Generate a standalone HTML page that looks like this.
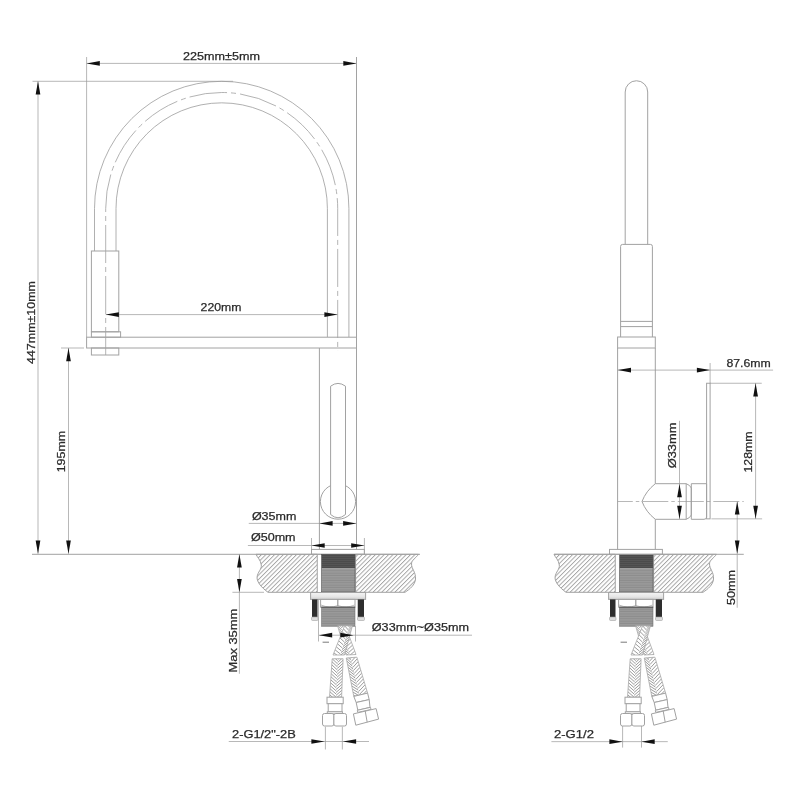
<!DOCTYPE html>
<html><head><meta charset="utf-8"><style>
html,body{margin:0;padding:0;background:#fff;}
svg{display:block;will-change:transform;}
text{font-family:"Liberation Sans",sans-serif;}
</style></head><body>
<svg width="800" height="800" viewBox="0 0 800 800">
<rect width="800" height="800" fill="#fff"/>
<defs>
<pattern id="hatch" patternUnits="userSpaceOnUse" width="3.1" height="10" patternTransform="rotate(45)">
<line x1="0.5" y1="0" x2="0.5" y2="10" stroke="#9a9a9a" stroke-width="0.85"/></pattern>
<pattern id="thrDark" patternUnits="userSpaceOnUse" width="10" height="2">
<rect width="10" height="2" fill="#555"/><rect y="1.2" width="10" height="0.6" fill="#444"/></pattern>
<pattern id="thrMid" patternUnits="userSpaceOnUse" width="10" height="2.4">
<rect width="10" height="2.4" fill="#9a9a9a"/><rect y="1.5" width="10" height="0.6" fill="#828282"/></pattern>
<linearGradient id="washer" x1="0" y1="0" x2="0" y2="1"><stop offset="0" stop-color="#f4f4f4"/><stop offset="0.6" stop-color="#e6e6e6"/><stop offset="1" stop-color="#cfcfcf"/></linearGradient>
<pattern id="braid" patternUnits="userSpaceOnUse" width="5" height="3">
<rect width="5" height="3" fill="#fff"/>
<path d="M0,0.2 L2.5,2.6 L5,0.2" fill="none" stroke="#8a8a8a" stroke-width="0.8"/></pattern>
</defs>
<line x1="86.6" y1="63.4" x2="356.5" y2="63.4" stroke="#9a9a9a" stroke-width="0.7" />
<polygon points="86.60,63.40 99.80,61.05 99.80,65.75" fill="#111"/>
<polygon points="356.50,63.40 343.30,61.05 343.30,65.75" fill="#111"/>
<line x1="86.6" y1="57" x2="86.6" y2="337" stroke="#9a9a9a" stroke-width="0.7" />
<line x1="356.5" y1="57" x2="356.5" y2="549.4" stroke="#a2a2a2" stroke-width="1.0" />
<text x="183" y="60" font-size="11.4" textLength="77" lengthAdjust="spacingAndGlyphs" fill="#2a2a2a" stroke="#2a2a2a" stroke-width="0.25">225mm±5mm</text>
<line x1="32.5" y1="81.3" x2="233" y2="81.3" stroke="#9a9a9a" stroke-width="0.7" />
<line x1="38" y1="81.3" x2="38" y2="553.8" stroke="#9a9a9a" stroke-width="0.7" />
<polygon points="38.00,81.30 35.65,94.50 40.35,94.50" fill="#111"/>
<polygon points="38.00,553.80 35.65,540.60 40.35,540.60" fill="#111"/>
<text x="34.8" y="364" font-size="11.4" textLength="83" lengthAdjust="spacingAndGlyphs" fill="#2a2a2a" stroke="#2a2a2a" stroke-width="0.25" transform="rotate(-90 34.8 364)">447mm±10mm</text>
<line x1="61" y1="348" x2="84" y2="348" stroke="#9a9a9a" stroke-width="0.7" />
<line x1="68.5" y1="348" x2="68.5" y2="553.8" stroke="#9a9a9a" stroke-width="0.7" />
<polygon points="68.50,348.00 66.15,361.20 70.85,361.20" fill="#111"/>
<polygon points="68.50,553.80 66.15,540.60 70.85,540.60" fill="#111"/>
<text x="64.6" y="472.3" font-size="11.4" textLength="41.5" lengthAdjust="spacingAndGlyphs" fill="#2a2a2a" stroke="#2a2a2a" stroke-width="0.25" transform="rotate(-90 64.6 472.3)">195mm</text>
<line x1="32" y1="554.3" x2="420" y2="554.3" stroke="#a2a2a2" stroke-width="1.0" />
<path d="M94.49999999999999,251 L94.49999999999999,208.5 A127.2,127.2 0 0 1 348.9,208.5 L348.9,337" fill="none" stroke="#9c9c9c" stroke-width="0.8"/>
<path d="M115.99999999999999,251 L115.99999999999999,208.5 A105.7,105.7 0 0 1 327.4,208.5 L327.4,337" fill="none" stroke="#9c9c9c" stroke-width="0.8"/>
<path d="M105.69999999999999,355 L105.69999999999999,208.5 A116,116 0 0 1 337.7,208.5 L337.7,351" fill="none" stroke="#a0a0a0" stroke-width="0.8" stroke-dasharray="38 4 5 4" stroke-dashoffset="10"/>
<rect x="91.4" y="251" width="27.40" height="80.80" stroke="#a2a2a2" stroke-width="1.0" fill="none" />
<rect x="91.4" y="331.8" width="29.20" height="5.40" stroke="#a2a2a2" stroke-width="1.0" fill="none" />
<rect x="91.4" y="348" width="27.40" height="7.00" stroke="#a2a2a2" stroke-width="1.0" fill="none" />
<rect x="86.6" y="337.2" width="269.90" height="10.80" stroke="#a2a2a2" stroke-width="1.0" fill="none" />
<line x1="105.7" y1="314.6" x2="337.6" y2="314.6" stroke="#9a9a9a" stroke-width="0.7" />
<polygon points="105.70,314.60 118.90,312.25 118.90,316.95" fill="#111"/>
<polygon points="337.60,314.60 324.40,312.25 324.40,316.95" fill="#111"/>
<text x="200.6" y="311" font-size="11.4" textLength="40.8" lengthAdjust="spacingAndGlyphs" fill="#2a2a2a" stroke="#2a2a2a" stroke-width="0.25">220mm</text>
<line x1="319.4" y1="348" x2="319.4" y2="549.4" stroke="#a2a2a2" stroke-width="1.0" />
<circle cx="338" cy="501.6" r="17.6" fill="none" stroke="#a2a2a2" stroke-width="1.0"/>
<path d="M330.6,386.2 Q338,380.6 345.5,386.2 L345.5,514.5 Q338,521 330.6,514.5 Z" fill="#fff" stroke="#a2a2a2" stroke-width="1.0"/>
<line x1="248.75" y1="523.4" x2="356.1" y2="523.4" stroke="#9a9a9a" stroke-width="0.7" />
<polygon points="319.40,523.40 332.60,521.05 332.60,525.75" fill="#111"/>
<polygon points="356.30,523.40 343.10,521.05 343.10,525.75" fill="#111"/>
<text x="251.9" y="519.6" font-size="11.4" textLength="44.5" lengthAdjust="spacingAndGlyphs" fill="#2a2a2a" stroke="#2a2a2a" stroke-width="0.25">Ø35mm</text>
<line x1="247.9" y1="545.5" x2="364.4" y2="545.5" stroke="#9a9a9a" stroke-width="0.7" />
<polygon points="311.50,545.50 324.70,543.15 324.70,547.85" fill="#111"/>
<polygon points="364.40,545.50 351.20,543.15 351.20,547.85" fill="#111"/>
<line x1="311.5" y1="538" x2="311.5" y2="554.3" stroke="#9a9a9a" stroke-width="0.7" />
<line x1="364.4" y1="538" x2="364.4" y2="554.3" stroke="#9a9a9a" stroke-width="0.7" />
<text x="250.9" y="541" font-size="11.4" textLength="44.7" lengthAdjust="spacingAndGlyphs" fill="#2a2a2a" stroke="#2a2a2a" stroke-width="0.25">Ø50mm</text>
<g><rect x="311.5" y="549.4" width="52.90" height="4.90" stroke="#a2a2a2" stroke-width="1.0" fill="none" /><path d="M256,554.3 L317.25,554.3 L317.25,592.3 L268,592.3 C262,588 256.5,582 257.1,577 C257.6,572 262,569 261.3,565 C260.8,560 257,557 256,554.3 Z" fill="url(#hatch)" stroke="#a2a2a2" stroke-width="1.0"/><path d="M355.6,554.3 L418.5,554.3 C416,558 411.5,560 411.5,564 C411.5,569 416,572 415.5,579 C415,585 410,589 405,592.3 L355.6,592.3 Z" fill="url(#hatch)" stroke="#a2a2a2" stroke-width="1.0"/><rect x="321.5" y="554.3" width="33.5" height="14" fill="url(#thrDark)"/><rect x="321.5" y="568.3" width="33.5" height="23.5" fill="url(#thrMid)"/><rect x="321.5" y="554.3" width="33.50" height="37.50" stroke="#555" stroke-width="0.6" fill="none" /><rect x="310.6" y="592.5" width="55.00" height="6.90" stroke="#a2a2a2" stroke-width="1.0" fill="url(#washer)" /><rect x="312" y="599.4" width="5.5" height="17.6" fill="#2e2e2e"/><rect x="357.75" y="599.4" width="6.25" height="17.6" fill="#2e2e2e"/><rect x="311.5" y="617" width="6.50" height="3.50" stroke="#a2a2a2" stroke-width="0.6" fill="#ddd" rx="1"/><rect x="357.5" y="617" width="7.00" height="3.50" stroke="#a2a2a2" stroke-width="0.6" fill="#ddd" rx="1"/><rect x="320.6" y="599.4" width="34.40" height="7.80" stroke="#a2a2a2" stroke-width="1.0" fill="#fff" /><path d="M321,605 Q329.4,608.6 337.8,605.6 Q346.4,608.6 354.6,605" fill="none" stroke="#aaa" stroke-width="0.8"/><line x1="337.8" y1="599.4" x2="337.8" y2="606" stroke="#999" stroke-width="1.2"/><rect x="321.5" y="607" width="33.5" height="19.25" fill="url(#thrMid)"/><rect x="321.5" y="607" width="33.50" height="19.25" stroke="#666" stroke-width="0.5" fill="none" /><line x1="321.5" y1="607.3" x2="355" y2="607.3" stroke="#555" stroke-width="0.9"/><clipPath id="hc1"><polygon points="337.60,625.80 345.40,625.80 356.00,654.50 346.00,655.00"/></clipPath><polygon points="337.60,625.80 345.40,625.80 356.00,654.50 346.00,655.00" fill="#fff"/><path d="M334.99,616.72 L338.55,620.80 M342.65,618.36 L339.04,622.30 M335.86,619.75 L339.53,623.80 M343.75,621.34 L340.02,625.30 M336.73,622.77 L340.52,626.80 M344.85,624.31 L341.01,628.30 M337.60,625.80 L341.50,629.80 M345.95,627.29 L341.99,631.30 M338.47,628.83 L342.48,632.80 M347.05,630.26 L342.98,634.30 M339.34,631.85 L343.47,635.80 M348.15,633.24 L343.96,637.30 M340.21,634.88 L344.45,638.80 M349.24,636.21 L344.95,640.30 M341.08,637.90 L345.44,641.80 M350.34,639.18 L345.93,643.30 M341.95,640.93 L346.42,644.80 M351.44,642.16 L346.91,646.30 M342.82,643.96 L347.41,647.80 M352.54,645.13 L347.90,649.30 M343.69,646.98 L348.39,650.80 M353.64,648.11 L348.88,652.30 M344.56,650.01 L349.38,653.80 M354.74,651.08 L349.87,655.30 M345.43,653.03 L350.36,656.80 M355.84,654.05 L350.85,658.30 M346.30,656.06 L351.34,659.80 M356.93,657.03 L351.84,661.30 M347.18,659.08 L352.33,662.80 M358.03,660.00 L352.82,664.30" fill="none" stroke="#8a8a8a" stroke-width="0.85" clip-path="url(#hc1)"/><polygon points="337.60,625.80 345.40,625.80 356.00,654.50 346.00,655.00" fill="none" stroke="#a2a2a2" stroke-width="0.75"/><clipPath id="hc2"><polygon points="344.60,625.80 352.40,625.80 344.50,655.00 333.00,655.00"/></clipPath><polygon points="344.60,625.80 352.40,625.80 344.50,655.00 333.00,655.00" fill="#fff"/><path d="M348.18,616.80 L351.51,621.14 M354.43,618.30 L351.00,622.64 M346.98,619.80 L350.50,624.14 M353.62,621.30 L350.00,625.64 M345.79,622.80 L349.50,627.14 M352.81,624.30 L349.00,628.64 M344.60,625.80 L348.50,630.14 M351.99,627.30 L348.00,631.64 M343.41,628.80 L347.50,633.14 M351.18,630.30 L347.00,634.64 M342.22,631.80 L346.50,636.14 M350.37,633.30 L346.00,637.64 M341.02,634.80 L345.49,639.14 M349.56,636.30 L344.99,640.64 M339.83,637.80 L344.49,642.14 M348.75,639.30 L343.99,643.64 M338.64,640.80 L343.49,645.14 M347.94,642.30 L342.99,646.64 M337.45,643.80 L342.49,648.14 M347.12,645.30 L341.99,649.64 M336.26,646.80 L341.49,651.14 M346.31,648.30 L340.99,652.64 M335.07,649.80 L340.49,654.14 M345.50,651.30 L339.99,655.64 M333.87,652.80 L339.48,657.14 M344.69,654.30 L338.98,658.64 M332.68,655.80 L338.48,660.14 M343.88,657.30 L337.98,661.64 M331.49,658.80 L337.48,663.14 M343.07,660.30 L336.98,664.64" fill="none" stroke="#8a8a8a" stroke-width="0.85" clip-path="url(#hc2)"/><polygon points="344.60,625.80 352.40,625.80 344.50,655.00 333.00,655.00" fill="none" stroke="#a2a2a2" stroke-width="0.75"/><clipPath id="hc3"><polygon points="332.20,658.75 343.10,658.75 341.60,697.20 329.50,697.20"/></clipPath><polygon points="332.20,658.75 343.10,658.75 341.60,697.20 329.50,697.20" fill="#fff"/><path d="M332.83,649.75 L338.14,654.93 M343.39,651.25 L338.06,656.43 M332.62,652.75 L337.98,657.93 M343.28,654.25 L337.90,659.43 M332.41,655.75 L337.81,660.93 M343.16,657.25 L337.73,662.43 M332.20,658.75 L337.65,663.93 M343.04,660.25 L337.57,665.43 M331.99,661.75 L337.49,666.93 M342.92,663.25 L337.40,668.43 M331.78,664.75 L337.32,669.93 M342.81,666.25 L337.24,671.43 M331.57,667.75 L337.16,672.93 M342.69,669.25 L337.08,674.43 M331.36,670.75 L336.99,675.93 M342.57,672.25 L336.91,677.43 M331.15,673.75 L336.83,678.93 M342.46,675.25 L336.75,680.43 M330.94,676.75 L336.67,681.93 M342.34,678.25 L336.58,683.43 M330.73,679.75 L336.50,684.93 M342.22,681.25 L336.42,686.43 M330.51,682.75 L336.34,687.93 M342.11,684.25 L336.26,689.43 M330.30,685.75 L336.18,690.93 M341.99,687.25 L336.09,692.43 M330.09,688.75 L336.01,693.93 M341.87,690.25 L335.93,695.43 M329.88,691.75 L335.85,696.93 M341.75,693.25 L335.77,698.43 M329.67,694.75 L335.68,699.93 M341.64,696.25 L335.60,701.43 M329.46,697.75 L335.52,702.93 M341.52,699.25 L335.44,704.43 M329.25,700.75 L335.36,705.93 M341.40,702.25 L335.27,707.43" fill="none" stroke="#8a8a8a" stroke-width="0.85" clip-path="url(#hc3)"/><polygon points="332.20,658.75 343.10,658.75 341.60,697.20 329.50,697.20" fill="none" stroke="#a2a2a2" stroke-width="0.75"/><clipPath id="hc4"><polygon points="346.25,658.00 356.90,657.20 367.60,693.10 353.80,696.40"/></clipPath><polygon points="346.25,658.00 356.90,657.20 367.60,693.10 353.80,696.40" fill="#fff"/><path d="M344.42,648.70 L349.36,654.10 M354.74,649.95 L349.73,655.60 M345.03,651.80 L350.10,657.10 M355.60,652.85 L350.47,658.60 M345.64,654.90 L350.84,660.10 M356.47,655.75 L351.21,661.60 M346.25,658.00 L351.57,663.10 M357.33,658.65 L351.94,664.60 M346.86,661.10 L352.31,666.10 M358.20,661.55 L352.68,667.60 M347.47,664.20 L353.05,669.10 M359.06,664.45 L353.42,670.60 M348.08,667.30 L353.79,672.10 M359.92,667.35 L354.15,673.60 M348.69,670.40 L354.52,675.10 M360.79,670.25 L354.89,676.60 M349.30,673.50 L355.26,678.10 M361.65,673.14 L355.63,679.60 M349.91,676.61 L356.00,681.10 M362.52,676.04 L356.36,682.60 M350.52,679.71 L356.73,684.10 M363.38,678.94 L357.10,685.60 M351.13,682.81 L357.47,687.10 M364.24,681.84 L357.84,688.60 M351.74,685.91 L358.21,690.10 M365.11,684.74 L358.58,691.60 M352.35,689.01 L358.94,693.10 M365.97,687.64 L359.31,694.60 M352.96,692.11 L359.68,696.10 M366.84,690.54 L360.05,697.60 M353.57,695.21 L360.42,699.10 M367.70,693.44 L360.79,700.60 M354.18,698.31 L361.15,702.10 M368.56,696.34 L361.52,703.60 M354.79,701.41 L361.89,705.10 M369.43,699.24 L362.26,706.60" fill="none" stroke="#8a8a8a" stroke-width="0.85" clip-path="url(#hc4)"/><polygon points="346.25,658.00 356.90,657.20 367.60,693.10 353.80,696.40" fill="none" stroke="#a2a2a2" stroke-width="0.75"/><rect x="327" y="697.2" width="16.20" height="6.50" stroke="#a2a2a2" stroke-width="1.0" fill="#fff" /><rect x="328.2" y="703.7" width="13.80" height="8.10" stroke="#a2a2a2" stroke-width="1.0" fill="#fff" /><rect x="327.3" y="711.8" width="15.10" height="2.10" stroke="#a2a2a2" stroke-width="1.0" fill="#fff" /><rect x="322.5" y="713.5" width="11.4" height="12.5" rx="2" fill="#fff" stroke="#a2a2a2" stroke-width="1.0"/><rect x="333.9" y="713.5" width="12.6" height="12.5" rx="2" fill="#fff" stroke="#a2a2a2" stroke-width="1.0"/><polygon points="353.8,696.4 367.6,693.1 369.2,699.6 356.2,702.5" fill="#fff" stroke="#a2a2a2" stroke-width="1.0"/><polygon points="356.2,702.5 369.2,699.6 370,707.4 357.8,710.2" fill="#fff" stroke="#a2a2a2" stroke-width="1.0"/><polygon points="357.3,710.3 370.5,707.3 371,709.5 357.8,712.4" fill="#fff" stroke="#a2a2a2" stroke-width="1.0"/><polygon points="353.4,713.9 376.1,708.6 378.6,719.1 355.8,725.2" fill="#fff" stroke="#a2a2a2" stroke-width="1.0" stroke-linejoin="round"/><line x1="365.2" y1="711" x2="367.2" y2="722.2" stroke="#a2a2a2" stroke-width="1.0"/><line x1="322.6" y1="642.2" x2="329" y2="642.2" stroke="#555" stroke-width="0.8"/></g>
<g transform="translate(298,0)"><rect x="311.5" y="549.4" width="52.90" height="4.90" stroke="#a2a2a2" stroke-width="1.0" fill="none" /><path d="M256,554.3 L317.25,554.3 L317.25,592.3 L268,592.3 C262,588 256.5,582 257.1,577 C257.6,572 262,569 261.3,565 C260.8,560 257,557 256,554.3 Z" fill="url(#hatch)" stroke="#a2a2a2" stroke-width="1.0"/><path d="M355.6,554.3 L418.5,554.3 C416,558 411.5,560 411.5,564 C411.5,569 416,572 415.5,579 C415,585 410,589 405,592.3 L355.6,592.3 Z" fill="url(#hatch)" stroke="#a2a2a2" stroke-width="1.0"/><rect x="321.5" y="554.3" width="33.5" height="14" fill="url(#thrDark)"/><rect x="321.5" y="568.3" width="33.5" height="23.5" fill="url(#thrMid)"/><rect x="321.5" y="554.3" width="33.50" height="37.50" stroke="#555" stroke-width="0.6" fill="none" /><rect x="310.6" y="592.5" width="55.00" height="6.90" stroke="#a2a2a2" stroke-width="1.0" fill="url(#washer)" /><rect x="312" y="599.4" width="5.5" height="17.6" fill="#2e2e2e"/><rect x="357.75" y="599.4" width="6.25" height="17.6" fill="#2e2e2e"/><rect x="311.5" y="617" width="6.50" height="3.50" stroke="#a2a2a2" stroke-width="0.6" fill="#ddd" rx="1"/><rect x="357.5" y="617" width="7.00" height="3.50" stroke="#a2a2a2" stroke-width="0.6" fill="#ddd" rx="1"/><rect x="320.6" y="599.4" width="34.40" height="7.80" stroke="#a2a2a2" stroke-width="1.0" fill="#fff" /><path d="M321,605 Q329.4,608.6 337.8,605.6 Q346.4,608.6 354.6,605" fill="none" stroke="#aaa" stroke-width="0.8"/><line x1="337.8" y1="599.4" x2="337.8" y2="606" stroke="#999" stroke-width="1.2"/><rect x="321.5" y="607" width="33.5" height="19.25" fill="url(#thrMid)"/><rect x="321.5" y="607" width="33.50" height="19.25" stroke="#666" stroke-width="0.5" fill="none" /><line x1="321.5" y1="607.3" x2="355" y2="607.3" stroke="#555" stroke-width="0.9"/><clipPath id="hd1"><polygon points="337.60,625.80 345.40,625.80 356.00,654.50 346.00,655.00"/></clipPath><polygon points="337.60,625.80 345.40,625.80 356.00,654.50 346.00,655.00" fill="#fff"/><path d="M334.99,616.72 L338.55,620.80 M342.65,618.36 L339.04,622.30 M335.86,619.75 L339.53,623.80 M343.75,621.34 L340.02,625.30 M336.73,622.77 L340.52,626.80 M344.85,624.31 L341.01,628.30 M337.60,625.80 L341.50,629.80 M345.95,627.29 L341.99,631.30 M338.47,628.83 L342.48,632.80 M347.05,630.26 L342.98,634.30 M339.34,631.85 L343.47,635.80 M348.15,633.24 L343.96,637.30 M340.21,634.88 L344.45,638.80 M349.24,636.21 L344.95,640.30 M341.08,637.90 L345.44,641.80 M350.34,639.18 L345.93,643.30 M341.95,640.93 L346.42,644.80 M351.44,642.16 L346.91,646.30 M342.82,643.96 L347.41,647.80 M352.54,645.13 L347.90,649.30 M343.69,646.98 L348.39,650.80 M353.64,648.11 L348.88,652.30 M344.56,650.01 L349.38,653.80 M354.74,651.08 L349.87,655.30 M345.43,653.03 L350.36,656.80 M355.84,654.05 L350.85,658.30 M346.30,656.06 L351.34,659.80 M356.93,657.03 L351.84,661.30 M347.18,659.08 L352.33,662.80 M358.03,660.00 L352.82,664.30" fill="none" stroke="#8a8a8a" stroke-width="0.85" clip-path="url(#hd1)"/><polygon points="337.60,625.80 345.40,625.80 356.00,654.50 346.00,655.00" fill="none" stroke="#a2a2a2" stroke-width="0.75"/><clipPath id="hd2"><polygon points="344.60,625.80 352.40,625.80 344.50,655.00 333.00,655.00"/></clipPath><polygon points="344.60,625.80 352.40,625.80 344.50,655.00 333.00,655.00" fill="#fff"/><path d="M348.18,616.80 L351.51,621.14 M354.43,618.30 L351.00,622.64 M346.98,619.80 L350.50,624.14 M353.62,621.30 L350.00,625.64 M345.79,622.80 L349.50,627.14 M352.81,624.30 L349.00,628.64 M344.60,625.80 L348.50,630.14 M351.99,627.30 L348.00,631.64 M343.41,628.80 L347.50,633.14 M351.18,630.30 L347.00,634.64 M342.22,631.80 L346.50,636.14 M350.37,633.30 L346.00,637.64 M341.02,634.80 L345.49,639.14 M349.56,636.30 L344.99,640.64 M339.83,637.80 L344.49,642.14 M348.75,639.30 L343.99,643.64 M338.64,640.80 L343.49,645.14 M347.94,642.30 L342.99,646.64 M337.45,643.80 L342.49,648.14 M347.12,645.30 L341.99,649.64 M336.26,646.80 L341.49,651.14 M346.31,648.30 L340.99,652.64 M335.07,649.80 L340.49,654.14 M345.50,651.30 L339.99,655.64 M333.87,652.80 L339.48,657.14 M344.69,654.30 L338.98,658.64 M332.68,655.80 L338.48,660.14 M343.88,657.30 L337.98,661.64 M331.49,658.80 L337.48,663.14 M343.07,660.30 L336.98,664.64" fill="none" stroke="#8a8a8a" stroke-width="0.85" clip-path="url(#hd2)"/><polygon points="344.60,625.80 352.40,625.80 344.50,655.00 333.00,655.00" fill="none" stroke="#a2a2a2" stroke-width="0.75"/><clipPath id="hd3"><polygon points="332.20,658.75 343.10,658.75 341.60,697.20 329.50,697.20"/></clipPath><polygon points="332.20,658.75 343.10,658.75 341.60,697.20 329.50,697.20" fill="#fff"/><path d="M332.83,649.75 L338.14,654.93 M343.39,651.25 L338.06,656.43 M332.62,652.75 L337.98,657.93 M343.28,654.25 L337.90,659.43 M332.41,655.75 L337.81,660.93 M343.16,657.25 L337.73,662.43 M332.20,658.75 L337.65,663.93 M343.04,660.25 L337.57,665.43 M331.99,661.75 L337.49,666.93 M342.92,663.25 L337.40,668.43 M331.78,664.75 L337.32,669.93 M342.81,666.25 L337.24,671.43 M331.57,667.75 L337.16,672.93 M342.69,669.25 L337.08,674.43 M331.36,670.75 L336.99,675.93 M342.57,672.25 L336.91,677.43 M331.15,673.75 L336.83,678.93 M342.46,675.25 L336.75,680.43 M330.94,676.75 L336.67,681.93 M342.34,678.25 L336.58,683.43 M330.73,679.75 L336.50,684.93 M342.22,681.25 L336.42,686.43 M330.51,682.75 L336.34,687.93 M342.11,684.25 L336.26,689.43 M330.30,685.75 L336.18,690.93 M341.99,687.25 L336.09,692.43 M330.09,688.75 L336.01,693.93 M341.87,690.25 L335.93,695.43 M329.88,691.75 L335.85,696.93 M341.75,693.25 L335.77,698.43 M329.67,694.75 L335.68,699.93 M341.64,696.25 L335.60,701.43 M329.46,697.75 L335.52,702.93 M341.52,699.25 L335.44,704.43 M329.25,700.75 L335.36,705.93 M341.40,702.25 L335.27,707.43" fill="none" stroke="#8a8a8a" stroke-width="0.85" clip-path="url(#hd3)"/><polygon points="332.20,658.75 343.10,658.75 341.60,697.20 329.50,697.20" fill="none" stroke="#a2a2a2" stroke-width="0.75"/><clipPath id="hd4"><polygon points="346.25,658.00 356.90,657.20 367.60,693.10 353.80,696.40"/></clipPath><polygon points="346.25,658.00 356.90,657.20 367.60,693.10 353.80,696.40" fill="#fff"/><path d="M344.42,648.70 L349.36,654.10 M354.74,649.95 L349.73,655.60 M345.03,651.80 L350.10,657.10 M355.60,652.85 L350.47,658.60 M345.64,654.90 L350.84,660.10 M356.47,655.75 L351.21,661.60 M346.25,658.00 L351.57,663.10 M357.33,658.65 L351.94,664.60 M346.86,661.10 L352.31,666.10 M358.20,661.55 L352.68,667.60 M347.47,664.20 L353.05,669.10 M359.06,664.45 L353.42,670.60 M348.08,667.30 L353.79,672.10 M359.92,667.35 L354.15,673.60 M348.69,670.40 L354.52,675.10 M360.79,670.25 L354.89,676.60 M349.30,673.50 L355.26,678.10 M361.65,673.14 L355.63,679.60 M349.91,676.61 L356.00,681.10 M362.52,676.04 L356.36,682.60 M350.52,679.71 L356.73,684.10 M363.38,678.94 L357.10,685.60 M351.13,682.81 L357.47,687.10 M364.24,681.84 L357.84,688.60 M351.74,685.91 L358.21,690.10 M365.11,684.74 L358.58,691.60 M352.35,689.01 L358.94,693.10 M365.97,687.64 L359.31,694.60 M352.96,692.11 L359.68,696.10 M366.84,690.54 L360.05,697.60 M353.57,695.21 L360.42,699.10 M367.70,693.44 L360.79,700.60 M354.18,698.31 L361.15,702.10 M368.56,696.34 L361.52,703.60 M354.79,701.41 L361.89,705.10 M369.43,699.24 L362.26,706.60" fill="none" stroke="#8a8a8a" stroke-width="0.85" clip-path="url(#hd4)"/><polygon points="346.25,658.00 356.90,657.20 367.60,693.10 353.80,696.40" fill="none" stroke="#a2a2a2" stroke-width="0.75"/><rect x="327" y="697.2" width="16.20" height="6.50" stroke="#a2a2a2" stroke-width="1.0" fill="#fff" /><rect x="328.2" y="703.7" width="13.80" height="8.10" stroke="#a2a2a2" stroke-width="1.0" fill="#fff" /><rect x="327.3" y="711.8" width="15.10" height="2.10" stroke="#a2a2a2" stroke-width="1.0" fill="#fff" /><rect x="322.5" y="713.5" width="11.4" height="12.5" rx="2" fill="#fff" stroke="#a2a2a2" stroke-width="1.0"/><rect x="333.9" y="713.5" width="12.6" height="12.5" rx="2" fill="#fff" stroke="#a2a2a2" stroke-width="1.0"/><polygon points="353.8,696.4 367.6,693.1 369.2,699.6 356.2,702.5" fill="#fff" stroke="#a2a2a2" stroke-width="1.0"/><polygon points="356.2,702.5 369.2,699.6 370,707.4 357.8,710.2" fill="#fff" stroke="#a2a2a2" stroke-width="1.0"/><polygon points="357.3,710.3 370.5,707.3 371,709.5 357.8,712.4" fill="#fff" stroke="#a2a2a2" stroke-width="1.0"/><polygon points="353.4,713.9 376.1,708.6 378.6,719.1 355.8,725.2" fill="#fff" stroke="#a2a2a2" stroke-width="1.0" stroke-linejoin="round"/><line x1="365.2" y1="711" x2="367.2" y2="722.2" stroke="#a2a2a2" stroke-width="1.0"/><line x1="322.6" y1="642.2" x2="329" y2="642.2" stroke="#555" stroke-width="0.8"/></g>
<line x1="239.4" y1="554.3" x2="239.4" y2="673.75" stroke="#9a9a9a" stroke-width="0.7" />
<polygon points="239.40,554.30 237.05,567.50 241.75,567.50" fill="#111"/>
<polygon points="239.40,592.30 237.05,579.10 241.75,579.10" fill="#111"/>
<line x1="232.4" y1="592.3" x2="264" y2="592.3" stroke="#9a9a9a" stroke-width="0.7" />
<text x="237" y="672.5" font-size="11.4" textLength="63.75" lengthAdjust="spacingAndGlyphs" fill="#2a2a2a" stroke="#2a2a2a" stroke-width="0.25" transform="rotate(-90 237 672.5)">Max 35mm</text>
<line x1="318.5" y1="599.4" x2="318.5" y2="641.5" stroke="#9a9a9a" stroke-width="0.7" />
<line x1="355.5" y1="626" x2="355.5" y2="641.5" stroke="#9a9a9a" stroke-width="0.7" />
<line x1="319" y1="635.2" x2="472" y2="635.2" stroke="#9a9a9a" stroke-width="0.7" />
<polygon points="319.00,635.20 332.20,632.85 332.20,637.55" fill="#111"/>
<polygon points="353.50,635.20 340.30,632.85 340.30,637.55" fill="#111"/>
<text x="371.8" y="631.4" font-size="11.4" textLength="97.2" lengthAdjust="spacingAndGlyphs" fill="#2a2a2a" stroke="#2a2a2a" stroke-width="0.25">Ø33mm~Ø35mm</text>
<line x1="228.75" y1="741.5" x2="369" y2="741.5" stroke="#9a9a9a" stroke-width="0.7" />
<polygon points="324.60,741.50 311.40,739.15 311.40,743.85" fill="#111"/>
<polygon points="342.90,741.50 356.10,739.15 356.10,743.85" fill="#111"/>
<line x1="325.4" y1="726.8" x2="325.4" y2="749.5" stroke="#9a9a9a" stroke-width="0.7" />
<line x1="342.35" y1="726.8" x2="342.35" y2="749.5" stroke="#9a9a9a" stroke-width="0.7" />
<text x="232" y="738" font-size="11.4" textLength="63.75" lengthAdjust="spacingAndGlyphs" fill="#2a2a2a" stroke="#2a2a2a" stroke-width="0.25">2-G1/2"-2B</text>
<path d="M625.2,244.4 L625.2,92 A11.25,11.25 0 0 1 647.7,92 L647.7,244.4" fill="none" stroke="#a2a2a2" stroke-width="1.0"/>
<path d="M620.6,337 L620.6,246.4 Q620.6,244.4 622.6,244.4 L650.4,244.4 Q652.4,244.4 652.4,246.4 L652.4,337" fill="none" stroke="#a2a2a2" stroke-width="1.0"/>
<line x1="620.6" y1="321.4" x2="652.4" y2="321.4" stroke="#a2a2a2" stroke-width="1.0" />
<line x1="620.6" y1="326.6" x2="652.4" y2="326.6" stroke="#a2a2a2" stroke-width="1.0" />
<rect x="617.6" y="337" width="37.70" height="11.00" stroke="#a2a2a2" stroke-width="1.0" fill="none" />
<line x1="617.6" y1="348" x2="617.6" y2="549.4" stroke="#a2a2a2" stroke-width="1.0" />
<line x1="655.3" y1="348" x2="655.3" y2="483.7" stroke="#a2a2a2" stroke-width="1.0" />
<line x1="655.3" y1="519.3" x2="655.3" y2="549.4" stroke="#a2a2a2" stroke-width="1.0" />
<path d="M686.2,483.7 L655.3,483.7 Q646,491 642,501.5 Q646,512 655.3,519.3 L686.2,519.3" fill="none" stroke="#a2a2a2" stroke-width="1.0"/>
<path d="M686.2,483.7 Q690,485 691.3,488 L691.3,515 Q690,518 686.2,519.3 Z" fill="none" stroke="#a2a2a2" stroke-width="1.0"/>
<path d="M691.3,483.7 L706.6,483.7 L706.6,517 Q706.6,519.3 704,519.3 L691.3,519.3 Z" fill="none" stroke="#a2a2a2" stroke-width="1.0"/>
<rect x="706.6" y="383.25" width="3.50" height="135.60" stroke="#a2a2a2" stroke-width="1.0" fill="none" />
<line x1="617.8" y1="501.5" x2="743.75" y2="501.5" stroke="#9a9a9a" stroke-width="0.7" stroke-dasharray="26 3 3.5 3" stroke-dashoffset="11"/>
<line x1="679.5" y1="420.8" x2="679.5" y2="519" stroke="#9a9a9a" stroke-width="0.7" />
<polygon points="679.50,484.00 677.15,497.20 681.85,497.20" fill="#111"/>
<polygon points="679.50,519.00 677.15,505.80 681.85,505.80" fill="#111"/>
<text x="676.3" y="468.3" font-size="11.4" textLength="45.8" lengthAdjust="spacingAndGlyphs" fill="#2a2a2a" stroke="#2a2a2a" stroke-width="0.25" transform="rotate(-90 676.3 468.3)">Ø33mm</text>
<line x1="617.8" y1="370.1" x2="773.1" y2="370.1" stroke="#9a9a9a" stroke-width="0.7" />
<polygon points="617.80,370.10 631.00,367.75 631.00,372.45" fill="#111"/>
<polygon points="710.10,370.10 696.90,367.75 696.90,372.45" fill="#111"/>
<line x1="710.1" y1="363" x2="710.1" y2="383.25" stroke="#9a9a9a" stroke-width="0.7" />
<text x="726.4" y="366.6" font-size="11.4" textLength="44.4" lengthAdjust="spacingAndGlyphs" fill="#2a2a2a" stroke="#2a2a2a" stroke-width="0.25">87.6mm</text>
<line x1="710" y1="383.25" x2="761.75" y2="383.25" stroke="#9a9a9a" stroke-width="0.7" />
<line x1="711.4" y1="518.85" x2="762.1" y2="518.85" stroke="#9a9a9a" stroke-width="0.7" />
<line x1="755.6" y1="383.25" x2="755.6" y2="518.85" stroke="#9a9a9a" stroke-width="0.7" />
<polygon points="755.60,383.25 753.25,396.45 757.95,396.45" fill="#111"/>
<polygon points="755.60,518.85 753.25,505.65 757.95,505.65" fill="#111"/>
<text x="752.2" y="472.5" font-size="11.4" textLength="41.1" lengthAdjust="spacingAndGlyphs" fill="#2a2a2a" stroke="#2a2a2a" stroke-width="0.25" transform="rotate(-90 752.2 472.5)">128mm</text>
<line x1="737.2" y1="501.4" x2="737.2" y2="607.75" stroke="#9a9a9a" stroke-width="0.7" />
<polygon points="737.20,501.40 734.85,514.60 739.55,514.60" fill="#111"/>
<polygon points="737.20,553.80 734.85,540.60 739.55,540.60" fill="#111"/>
<line x1="554" y1="554.3" x2="743.75" y2="554.3" stroke="#a2a2a2" stroke-width="1.0" />
<text x="734.65" y="605.1" font-size="11.4" textLength="35" lengthAdjust="spacingAndGlyphs" fill="#2a2a2a" stroke="#2a2a2a" stroke-width="0.25" transform="rotate(-90 734.65 605.1)">50mm</text>
<line x1="551.4" y1="741.65" x2="667.75" y2="741.65" stroke="#9a9a9a" stroke-width="0.7" />
<polygon points="622.60,741.65 609.40,739.30 609.40,744.00" fill="#111"/>
<polygon points="641.50,741.65 654.70,739.30 654.70,744.00" fill="#111"/>
<line x1="622.6" y1="726" x2="622.6" y2="747.6" stroke="#9a9a9a" stroke-width="0.7" />
<line x1="641.5" y1="726" x2="641.5" y2="747.6" stroke="#9a9a9a" stroke-width="0.7" />
<text x="554" y="738.2" font-size="11.4" textLength="39.9" lengthAdjust="spacingAndGlyphs" fill="#2a2a2a" stroke="#2a2a2a" stroke-width="0.25">2-G1/2</text>
</svg></body></html>
